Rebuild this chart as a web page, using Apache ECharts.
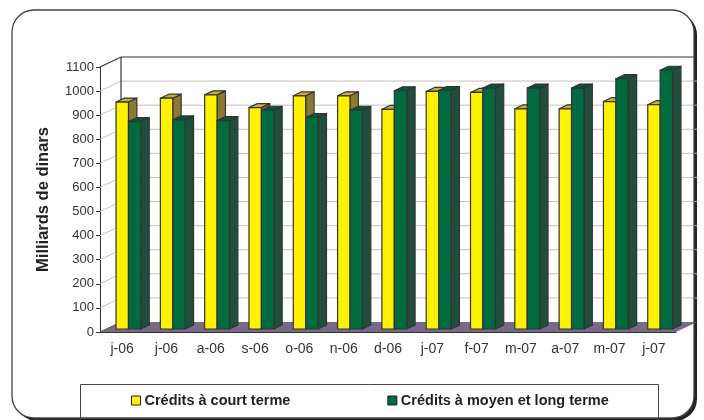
<!DOCTYPE html>
<html>
<head>
<meta charset="utf-8">
<script src="https://cdn.jsdelivr.net/npm/echarts@6/dist/echarts.min.js"></script>
<style>
  html, body { margin: 0; padding: 0; background: #fff; }
  #chart { width: 704px; height: 420px; }
</style>
</head>
<body>
<div id="chart"></div>
<script>
var months = ['j-06', 'j-06', 'a-06', 's-06', 'o-06', 'n-06', 'd-06', 'j-07', 'f-07', 'm-07', 'a-07', 'm-07', 'j-07'];
var courtTerme = [942, 958, 972, 919, 968, 968, 912, 986, 982, 914, 914, 944, 931];
var moyenLongTerme = [861, 868, 865, 908, 878, 908, 989, 990, 1000, 1000, 1000, 1039, 1074];
var yTicks = [0, 100, 200, 300, 400, 500, 600, 700, 800, 900, 1000, 1100];

var FONT = '"Liberation Sans", Arial, sans-serif';
// depth of the 3d box, and where the bars sit inside it
var DEPTH = [21, -10];
var F1 = [6.3, -3], F2 = [14.7, -7];

var colors = {
    court: { front: '#fff200', top: '#c9b22c', side: '#8c7a34' },
    moyen: { front: '#006b3f', top: '#005a34', side: '#1f4f3a' }
};

function bar3d(pal, side) {
    return function (params, api) {
        var cat = api.value(0), v = api.value(1);
        var base = api.coord([cat, 0]);
        var top = api.coord([cat, v]);
        var bw = api.size([1, 0])[0] * 0.28;
        var x0 = base[0] + (side === 0 ? -bw : 0);
        var x1 = x0 + bw;
        var yt = top[1], yb = base[1];
        var st = { stroke: '#333', lineWidth: 1.2, lineJoin: 'round' };
        return {
            type: 'group',
            children: [
                { type: 'polygon', shape: { points: [
                    [x1 + F1[0], yt + F1[1]], [x1 + F2[0], yt + F2[1]],
                    [x1 + F2[0], yb + F2[1]], [x1 + F1[0], yb + F1[1]]] },
                  style: Object.assign({ fill: pal.side }, st) },
                { type: 'polygon', shape: { points: [
                    [x0 + F1[0], yt + F1[1]], [x1 + F1[0], yt + F1[1]],
                    [x1 + F2[0], yt + F2[1]], [x0 + F2[0], yt + F2[1]]] },
                  style: Object.assign({ fill: pal.top }, st) },
                { type: 'rect', shape: { x: x0 + F1[0], y: yt + F1[1], width: bw, height: yb - yt },
                  style: Object.assign({ fill: pal.front }, st) }
            ]
        };
    };
}

function frame(params, api) {
    var n = months.length;
    var cw = api.size([1, 0])[0];
    var xl = api.coord([0, 0])[0] - cw / 2;
    var xr = api.coord([n - 1, 0])[0] + cw / 2;
    var y0 = api.coord([0, 0])[1];
    var yTop = api.coord([0, yTicks[yTicks.length - 1]])[1];
    var kids = [];
    // floor
    kids.push({ type: 'polygon', shape: { points: [
        [xl, y0], [xr, y0], [xr + DEPTH[0], y0 + DEPTH[1]], [xl + DEPTH[0], y0 + DEPTH[1]]] },
        style: { fill: '#776a88' } });
    // grid lines on back wall and side wall
    for (var i = 1; i < yTicks.length - 1; i++) {
        var y = api.coord([0, yTicks[i]])[1];
        kids.push({ type: 'line', shape: { x1: xl, y1: y, x2: xl + DEPTH[0], y2: y + DEPTH[1] },
            style: { stroke: '#c9bfb8', lineWidth: 1 } });
        kids.push({ type: 'line', shape: { x1: xl + DEPTH[0], y1: y + DEPTH[1], x2: xr + DEPTH[0], y2: y + DEPTH[1] },
            style: { stroke: '#c9bfb8', lineWidth: 1 } });
    }
    // wall outline
    kids.push({ type: 'polyline', shape: { points: [
        [xl, yTop], [xl + DEPTH[0], yTop + DEPTH[1]], [xr + DEPTH[0], yTop + DEPTH[1]]] },
        style: { stroke: '#333', lineWidth: 1.2, fill: null } });
    kids.push({ type: 'line', shape: { x1: xl + DEPTH[0], y1: yTop + DEPTH[1], x2: xl + DEPTH[0], y2: y0 + DEPTH[1] },
        style: { stroke: '#333', lineWidth: 1.2 } });
    kids.push({ type: 'line', shape: { x1: xl, y1: y0, x2: xl + DEPTH[0], y2: y0 + DEPTH[1] },
        style: { stroke: '#555', lineWidth: 1 } });
    return { type: 'group', children: kids };
}

var chart = echarts.init(document.getElementById('chart'));
var option = {
    animation: false,
    textStyle: { fontFamily: FONT },
    graphic: [
        { type: 'rect', z: -10, shape: { x: 12, y: 10, width: 682, height: 408, r: 22 },
          style: { fill: '#fff', shadowColor: '#222', shadowOffsetX: 3, shadowOffsetY: 3, shadowBlur: 0 } },
        { type: 'rect', z: 100, shape: { x: 12, y: 10, width: 682, height: 408, r: 22 },
          style: { fill: null, stroke: '#444', lineWidth: 1.3 } },
        { type: 'rect', z: 50, shape: { x: 80.5, y: 384.5, width: 578, height: 34 },
          style: { fill: '#fff', stroke: '#444', lineWidth: 1 } }
    ],
    grid: { left: 100, right: 28, top: 67, bottom: 88 },
    legend: {
        z: 60,
        left: 131, top: 393,
        padding: 0,
        itemWidth: 9, itemHeight: 9, itemGap: 97,
        icon: 'rect',
        itemStyle: { borderColor: '#222', borderWidth: 1 },
        textStyle: { fontFamily: FONT, fontSize: 14.5, fontWeight: 'bold', color: '#222', padding: [0, 0, 0, -1] },
        data: ['Crédits à court terme', 'Crédits à moyen et long terme']
    },
    xAxis: {
        type: 'category',
        data: months,
        axisLine: { lineStyle: { color: '#333', width: 1 } },
        axisTick: { length: 4, lineStyle: { color: '#333' } },
        axisLabel: { fontSize: 14, color: '#333', margin: 10 }
    },
    yAxis: {
        type: 'value',
        min: 0, max: 1100, interval: 100,
        name: 'Milliards de dinars',
        nameLocation: 'middle',
        nameRotate: 90,
        nameGap: 48,
        nameTextStyle: { fontSize: 16.5, fontWeight: 'bold', color: '#222' },
        axisLine: { show: true, lineStyle: { color: '#333', width: 1 } },
        axisTick: { show: true, length: 4, lineStyle: { color: '#333' } },
        axisLabel: { fontSize: 13, color: '#333', margin: 6, formatter: function (v) { return String(v); } },
        splitLine: { show: false }
    },
    series: [
        { type: 'custom', name: 'frame', z: 1, silent: true, renderItem: frame, data: [[0, 0]] },
        { type: 'custom', name: 'Crédits à court terme', z: 2,
          itemStyle: { color: colors.court.front },
          renderItem: bar3d(colors.court, 0),
          data: courtTerme.map(function (v, i) { return [i, v]; }) },
        { type: 'custom', name: 'Crédits à moyen et long terme', z: 2,
          itemStyle: { color: colors.moyen.front },
          renderItem: bar3d(colors.moyen, 1),
          data: moyenLongTerme.map(function (v, i) { return [i, v]; }) }
    ]
};
chart.setOption(option);
</script>
</body>
</html>
